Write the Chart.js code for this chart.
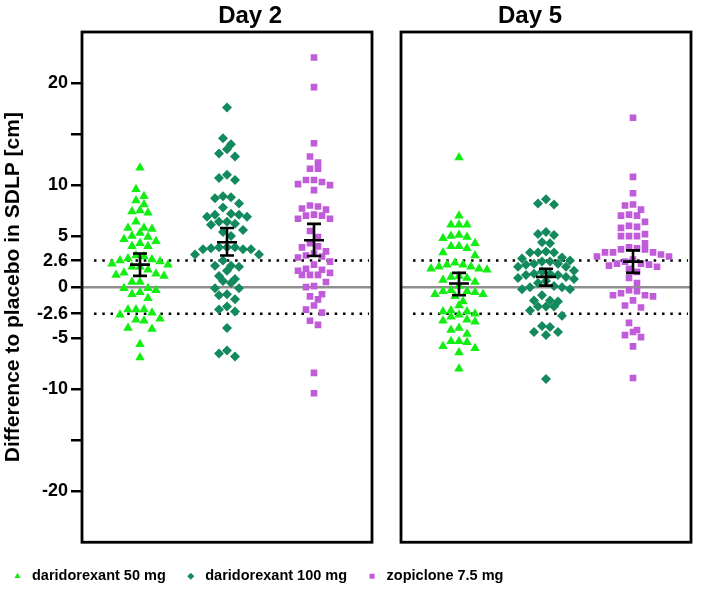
<!DOCTYPE html>
<html>
<head>
<meta charset="utf-8">
<script src="https://cdn.jsdelivr.net/npm/chart.js@4.4.1/dist/chart.umd.min.js"></script>
<style>
  html, body { margin: 0; padding: 0; background: #fff; }
</style>
</head>
<body>
<canvas id="chart" width="709" height="597"></canvas>
<script>
// values: difference to placebo in SDLP (cm), one value per subject
const groups = ['daridorexant 50 mg', 'daridorexant 100 mg', 'zopiclone 7.5 mg'];
const days = ['Day 2', 'Day 5'];
const yTicks = [20, 15, 10, 5, 2.6, 0, -2.6, -5, -10, -15, -20];
const minorTicks = [15, -15];
const threshold = 2.6;

const day2Dari50 = [11.7, 9.6, 8.9, 8.5, 8.1, 7.5, 7.4, 7.3, 6.4, 5.8, 5.8, 5.7, 5.3, 5.0, 4.9, 4.7, 4.5,
  4.3, 4.0, 4.0, 3.1, 3.0, 2.8, 2.7, 2.6, 2.5, 2.3, 2.2, 2.0, 2.0, 1.7, 1.4, 1.3, 1.2, 1.1, 0.5, 0.5,
  -0.1, -0.1, -0.3, -0.5, -0.7, -1.1, -2.2, -2.2, -2.2, -2.5, -2.7, -3.1, -3.2, -3.3, -4.0, -4.1, -5.6, -6.9];
const day2Dari100 = [17.6, 14.6, 14.0, 13.5, 13.1, 12.8, 11.0, 10.7, 10.5, 8.9, 8.8, 8.7, 8.2, 7.8, 7.2,
  7.1, 7.1, 6.9, 6.9, 6.4, 6.4, 6.2, 6.1, 5.6, 5.4, 5.0, 3.9, 3.9, 3.9, 3.8, 3.7, 3.7, 3.7, 3.2, 3.2,
  2.6, 2.1, 2.1, 2.0, 1.6, 1.1, 0.8, 0.6, 0.4, -0.1, -0.1, -0.7, -0.8, -1.2, -1.9, -2.2, -2.4, -4.0,
  -6.2, -6.5, -6.8];
const day2Zop = [22.5, 19.6, 14.1, 12.8, 12.2, 11.6, 11.6, 10.5, 10.5, 10.3, 10.1, 10.0, 9.5, 8.0, 7.9,
  7.7, 7.6, 7.1, 7.0, 7.0, 6.7, 6.7, 5.5, 4.9, 4.3, 4.0, 3.9, 3.5, 3.3, 3.1, 3.0, 2.9, 2.5, 2.2, 1.8,
  1.7, 1.6, 1.4, 1.2, 1.2, 1.2, 0.5, 0.1, 0.0, -0.7, -0.9, -1.2, -1.8, -2.2, -2.5, -3.3, -3.7, -8.4, -10.4];

const day5Dari50 = [12.7, 7.0, 6.1, 6.1, 6.1, 5.1, 5.0, 4.9, 4.8, 4.3, 4.0, 4.0, 3.8, 3.4, 3.1, 2.4, 2.2,
  2.2, 2.0, 2.0, 1.8, 1.8, 1.7, 1.1, 1.0, 0.9, 0.7, 0.5, 0.1, -0.3, -0.4, -0.4, -0.5, -0.7, -0.7, -0.9,
  -1.4, -1.8, -2.3, -2.4, -2.4, -2.6, -2.7, -2.9, -3.2, -3.3, -3.4, -4.0, -4.2, -4.6, -5.3, -5.3, -5.4,
  -5.8, -6.0, -6.4, -8.0];
const day5Dari100 = [8.6, 8.2, 8.1, 5.4, 5.2, 5.1, 4.4, 4.3, 3.5, 3.4, 3.4, 3.4, 2.9, 2.8, 2.6, 2.5, 2.5,
  2.3, 2.3, 2.2, 2.0, 2.0, 1.6, 1.5, 1.3, 1.3, 1.2, 1.2, 1.0, 0.9, 0.8, 0.6, 0.4, 0.1, 0.0, 0.0, -0.2,
  -0.2, -0.8, -1.3, -1.3, -1.4, -1.9, -1.9, -1.9, -2.3, -2.8, -3.8, -3.9, -4.4, -4.4, -4.7, -9.0];
const day5Zop = [16.6, 10.8, 9.2, 8.1, 8.0, 7.6, 7.1, 7.0, 7.0, 6.4, 6.0, 5.9, 5.8, 5.2, 5.0, 5.0, 5.0,
  4.3, 3.9, 3.8, 3.7, 3.7, 3.4, 3.4, 3.4, 3.2, 3.0, 3.0, 2.7, 2.5, 2.3, 2.3, 2.2, 2.1, 2.0, 1.8, 1.5,
  0.9, 0.4, -0.3, -0.4, -0.6, -0.8, -0.8, -0.9, -1.3, -1.8, -2.0, -3.5, -4.2, -4.4, -4.7, -4.9, -5.8, -8.9];

// mean with 95% CI, in group order
const day2Mean = [2.2, 4.4, 4.6];
const day2Low = [1.1, 3.1, 3.05];
const day2High = [3.3, 5.8, 6.2];
const day5Mean = [0.35, 1.0, 2.5];
const day5Low = [-0.8, 0.15, 1.4];
const day5High = [1.4, 1.8, 3.6];

const dayValues = [[day2Dari50, day2Dari100, day2Zop], [day5Dari50, day5Dari100, day5Zop]];
const dayStats = [[day2Mean, day2Low, day2High], [day5Mean, day5Low, day5High]];

const colors = ['#12ee12', '#128a5d', '#c05bd9'];
const shapes = ['triangle', 'rectRot', 'rect'];
const radii = [5.5, 5, 4.7];

// layout of the shared x axis: each day is a panel holding 3 columns
const panelShift = [0, 11 / 3];
const panelBounds = [[1 / 3, 11 / 3], [4, 22 / 3]];
const PX_X = 87, ROW_H = 0.9, SLOT = 8;

// scatter-dot layout: values within one row height share a row and spread sideways
function swarm(values, center) {
  const rows = [];
  values.slice().sort((a, b) => b - a).forEach(v => {
    const row = rows[rows.length - 1];
    if (row && row[0] - v < ROW_H) row.push(v); else rows.push([v]);
  });
  return rows.flatMap(row => {
    const n = row.length;
    // fill slots from the middle outwards, alternating sides
    const slots = Array.from({ length: n }, (_, k) => k - (n - 1) / 2)
      .sort((a, b) => Math.abs(a) - Math.abs(b) || a - b);
    return row.map((v, k) => ({ x: center + slots[k] * SLOT / PX_X, y: v }));
  });
}

const datasets = groups.map((g, i) => ({
  label: g,
  data: days.flatMap((d, j) => swarm(dayValues[j][i], 1 + i + panelShift[j])),
  pointStyle: shapes[i],
  pointRadius: radii[i],
  backgroundColor: colors[i],
  borderColor: colors[i],
  borderWidth: 0
}));

const font = '"Liberation Sans", Arial, Helvetica, sans-serif';

const refLines = {
  id: 'refLines',
  beforeDatasetsDraw(chart) {
    const { ctx, scales: { x, y } } = chart;
    ctx.save();
    panelBounds.forEach(([a, b]) => {
      const x0 = x.getPixelForValue(a), x1 = x.getPixelForValue(b);
      ctx.setLineDash([]);
      ctx.strokeStyle = '#8f8f8f';
      ctx.lineWidth = 2.5;
      ctx.beginPath();
      ctx.moveTo(x0, y.getPixelForValue(0));
      ctx.lineTo(x1, y.getPixelForValue(0));
      ctx.stroke();
      ctx.setLineDash([2.5, 5.8]);
      ctx.strokeStyle = '#000';
      [threshold, -threshold].forEach(t => {
        ctx.beginPath();
        ctx.moveTo(x0 + 12, y.getPixelForValue(t));
        ctx.lineTo(x1 - 3, y.getPixelForValue(t));
        ctx.stroke();
      });
    });
    ctx.restore();
  }
};

const errorBars = {
  id: 'errorBars',
  afterDatasetsDraw(chart) {
    const { ctx, scales: { x, y } } = chart;
    ctx.save();
    ctx.strokeStyle = '#000';
    ctx.lineWidth = 2.6;
    dayStats.forEach(([mean, low, high], j) => {
      mean.forEach((m, i) => {
        const cx = x.getPixelForValue(1 + i + panelShift[j]);
        const yl = y.getPixelForValue(low[i]), yh = y.getPixelForValue(high[i]), ym = y.getPixelForValue(m);
        ctx.beginPath();
        ctx.moveTo(cx, yl); ctx.lineTo(cx, yh);
        ctx.moveTo(cx - 7, yl); ctx.lineTo(cx + 7, yl);
        ctx.moveTo(cx - 7, yh); ctx.lineTo(cx + 7, yh);
        ctx.moveTo(cx - 10, ym); ctx.lineTo(cx + 10, ym);
        ctx.stroke();
      });
    });
    ctx.restore();
  }
};

// panel frames and the day headings
const panels = {
  id: 'panels',
  afterDraw(chart) {
    const { ctx, chartArea, scales: { x } } = chart;
    ctx.save();
    ctx.strokeStyle = '#000';
    ctx.lineWidth = 2.8;
    panelBounds.forEach(([a, b], j) => {
      const x0 = x.getPixelForValue(a), x1 = x.getPixelForValue(b);
      ctx.strokeRect(x0, chartArea.top, x1 - x0, chartArea.bottom - chartArea.top);
      ctx.fillStyle = '#000';
      ctx.font = 'bold 24px ' + font;
      ctx.textAlign = 'center';
      ctx.textBaseline = 'alphabetic';
      const titleX = j === 0 ? x0 + (x1 - x0) * 0.58 : x0 + (x1 - x0) * 0.445;
      ctx.fillText(days[j], titleX, 23);
    });
    ctx.restore();
  }
};

new Chart(document.getElementById('chart'), {
  type: 'scatter',
  data: { datasets },
  plugins: [refLines, errorBars, panels],
  options: {
    responsive: false,
    animation: false,
    events: [],
    layout: { padding: { left: -7.5, right: 18, top: 32, bottom: 3.5 } },
    scales: {
      x: {
        type: 'linear',
        min: panelBounds[0][0],
        max: panelBounds[1][1],
        ticks: { display: false },
        grid: { display: false },
        border: { display: false },
        afterFit(s) { s.height = 9; }
      },
      y: {
        min: -25,
        max: 25,
        afterBuildTicks(s) { s.ticks = yTicks.map(v => ({ value: v })); },
        afterFit(s) { s.width = 89.5; },
        ticks: {
          color: '#000',
          padding: 3,
          font: { family: font, size: 18, weight: 'bold' },
          callback: v => (minorTicks.includes(v) ? '' : String(v))
        },
        grid: {
          drawOnChartArea: false,
          tickLength: 11,
          tickColor: '#000',
          tickWidth: 2.5,
          lineWidth: 2.5,
          color: '#000'
        },
        border: { display: false },
        title: {
          display: true,
          text: 'Difference to placebo in SDLP [cm]',
          color: '#000',
          padding: { top: 8, bottom: 0 },
          font: { family: font, size: 21, weight: 'bold' }
        }
      }
    },
    plugins: {
      tooltip: { enabled: false },
      legend: {
        position: 'bottom',
        align: 'start',
        labels: {
          usePointStyle: true,
          boxHeight: 5,
          padding: 17.75,
          color: '#000',
          font: { family: font, size: 14.5, weight: 'bold' }
        }
      }
    }
  }
});
</script>
</body>
</html>
